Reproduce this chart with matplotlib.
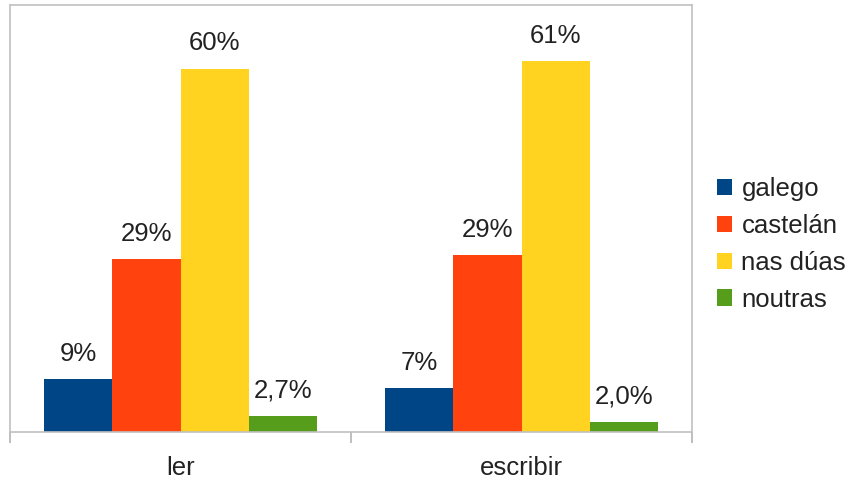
import matplotlib
matplotlib.use("Agg")
import matplotlib.pyplot as plt
import numpy as np
from matplotlib.patches import Patch

plt.rcParams["font.family"] = ["Liberation Sans", "DejaVu Sans"]

categories = ["ler", "escribir"]
series = ["galego", "castelán", "nas dúas", "noutras"]
colors = ["#004586", "#ff420e", "#ffd320", "#579d1c"]
# values per series, [ler, escribir]
values = {
    "galego": [8.7, 7.3],
    "castelán": [28.6, 29.3],
    "nas dúas": [60.1, 61.3],
    "noutras": [2.7, 1.7],
}
labels = {
    "galego": ["9%", "7%"],
    "castelán": ["29%", "29%"],
    "nas dúas": ["60%", "61%"],
    "noutras": ["2,7%", "2,0%"],
}

fig = plt.figure(figsize=(8.5, 4.83), dpi=100)
ax = fig.add_axes([10 / 850, 51 / 483, 682 / 850, 427 / 483])

x = np.arange(len(categories))
width = 0.2
for i, name in enumerate(series):
    pos = x + (i - 1.5) * width
    bars = ax.bar(pos, values[name], width, color=colors[i], label=name)
    for b, lab in zip(bars, labels[name]):
        ax.annotate(lab, (b.get_x() + b.get_width() / 2, b.get_height()),
                    xytext=(0, 9.5), textcoords="offset points",
                    ha="center", va="bottom", fontsize=18.5, color="#222222")

ax.set_xlim(-0.5, 1.5)
ax.set_ylim(0, 70.6)
ax.set_yticks([])
ax.set_xticks(x)
ax.set_xticklabels(categories, fontsize=18.5, color="#222222")
ax.tick_params(axis="x", which="major", length=0, pad=17)
ax.set_xticks([-0.5, 0.5, 1.5], minor=True)
ax.tick_params(axis="x", which="minor", length=8, width=1.2, color="#b3b3b3")
for s in ax.spines.values():
    s.set_color("#c0c0c0")
    s.set_linewidth(1.2)

handles = [Patch(facecolor=c, edgecolor="none") for c in colors]
fig.legend(handles, series, loc="center left", bbox_to_anchor=(717 / 850, 0.494),
           frameon=False, fontsize=18.5, handlelength=0.6, handleheight=0.6,
           handletextpad=0.35, labelspacing=0.5, borderpad=0, borderaxespad=0,
           labelcolor="#222222")

fig.savefig("out.png", dpi=100)
